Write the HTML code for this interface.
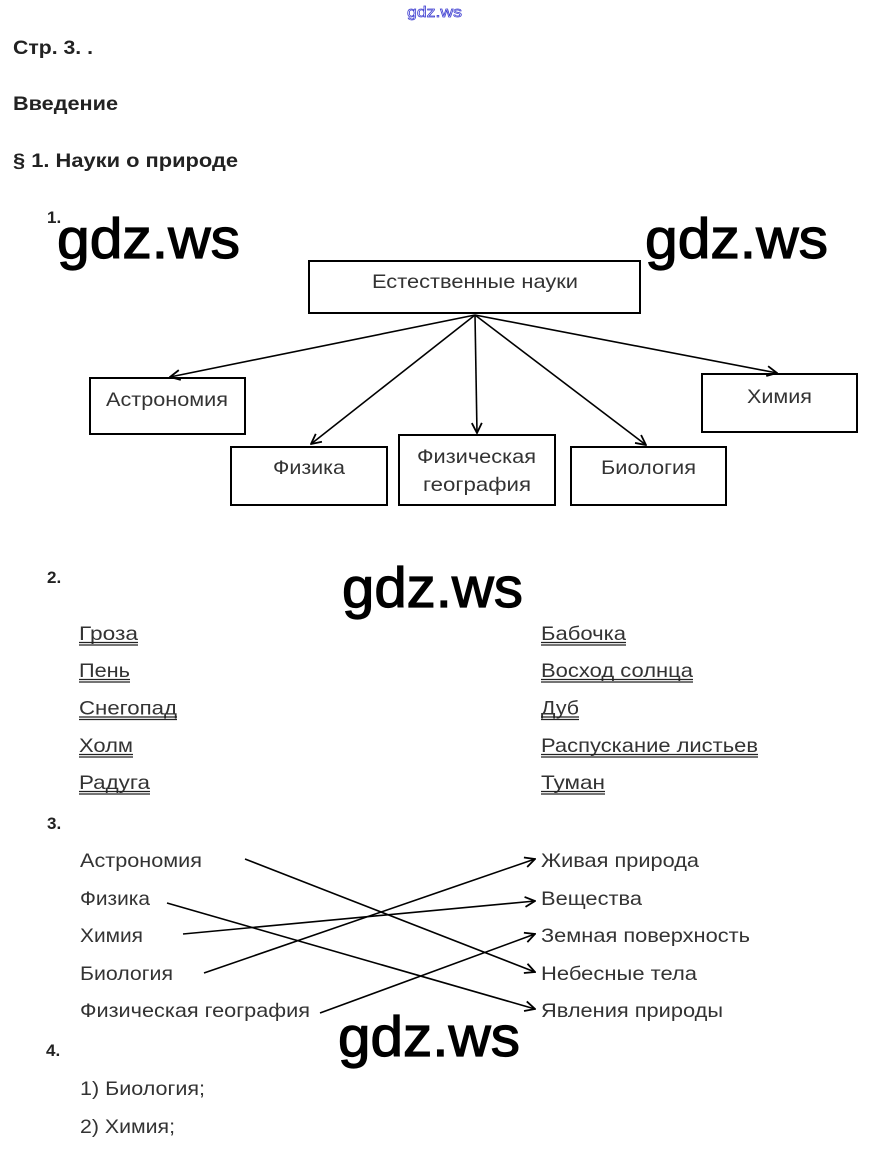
<!DOCTYPE html>
<html><head><meta charset="utf-8"><style>
html,body{margin:0;padding:0;background:#fff;}
svg{display:block;}
text{font-family:"Liberation Sans",Arial,sans-serif;}
</style></head><body>
<svg width="870" height="1156" viewBox="0 0 870 1156" xmlns="http://www.w3.org/2000/svg">
<defs>
<marker id="ah" viewBox="0 0 12 12" refX="11" refY="6" markerWidth="12" markerHeight="12" markerUnits="userSpaceOnUse" orient="auto">
<path d="M1,1 L11,6 L1,11" fill="none" stroke="#000" stroke-width="1.8"/>
</marker>
</defs>
<rect width="870" height="1156" fill="#fff"/>

<!-- top small watermark -->
<text x="407" y="17" font-size="15" textLength="55" lengthAdjust="spacingAndGlyphs" fill="#fff" stroke="#3a3ad0" stroke-width="0.7">gdz.ws</text>

<!-- headings -->
<g fill="#222" font-weight="bold">
<text x="13" y="54" font-size="19.5" textLength="80" lengthAdjust="spacingAndGlyphs">Стр. 3. .</text>
<text x="13" y="110" font-size="19.5" textLength="105" lengthAdjust="spacingAndGlyphs">Введение</text>
<text x="13" y="167" font-size="19.5" textLength="225" lengthAdjust="spacingAndGlyphs">§ 1. Науки о природе</text>
<text x="47" y="223" font-size="17">1.</text>
<text x="47" y="583" font-size="17">2.</text>
<text x="47" y="829" font-size="17">3.</text>
<text x="46" y="1056" font-size="17">4.</text>
</g>

<!-- diagram boxes -->
<g fill="none" stroke="#000" stroke-width="2">
<rect x="309" y="261" width="331" height="52"/>
<rect x="90" y="378" width="155" height="56"/>
<rect x="231" y="447" width="156" height="58"/>
<rect x="399" y="435" width="156" height="70"/>
<rect x="571" y="447" width="155" height="58"/>
<rect x="702" y="374" width="155" height="58"/>
</g>
<g fill="#333" font-size="19.5">
<text x="372" y="288" textLength="206" lengthAdjust="spacingAndGlyphs">Естественные науки</text>
<text x="106" y="406" textLength="122" lengthAdjust="spacingAndGlyphs">Астрономия</text>
<text x="273" y="474" textLength="72" lengthAdjust="spacingAndGlyphs">Физика</text>
<text x="417" y="463" textLength="119" lengthAdjust="spacingAndGlyphs">Физическая</text>
<text x="423" y="491" textLength="108" lengthAdjust="spacingAndGlyphs">география</text>
<text x="601" y="474" textLength="95" lengthAdjust="spacingAndGlyphs">Биология</text>
<text x="747" y="403" textLength="65" lengthAdjust="spacingAndGlyphs">Химия</text>
</g>
<g stroke="#000" stroke-width="1.6" marker-end="url(#ah)">
<line x1="475" y1="315" x2="170" y2="377"/>
<line x1="475" y1="315" x2="311" y2="444"/>
<line x1="475" y1="315" x2="477" y2="433"/>
<line x1="475" y1="315" x2="646" y2="445"/>
<line x1="475" y1="315" x2="777" y2="373"/>
</g>

<!-- section 2 -->
<g fill="#333" font-size="19.5">
<text x="79" y="640" textLength="59" lengthAdjust="spacingAndGlyphs">Гроза</text>
<text x="79" y="677" textLength="51" lengthAdjust="spacingAndGlyphs">Пень</text>
<text x="79" y="714.5" textLength="98" lengthAdjust="spacingAndGlyphs">Снегопад</text>
<text x="79" y="752" textLength="54" lengthAdjust="spacingAndGlyphs">Холм</text>
<text x="79" y="789" textLength="71" lengthAdjust="spacingAndGlyphs">Радуга</text>
<text x="541" y="640" textLength="85" lengthAdjust="spacingAndGlyphs">Бабочка</text>
<text x="541" y="677" textLength="152" lengthAdjust="spacingAndGlyphs">Восход солнца</text>
<text x="541" y="714.5" textLength="38" lengthAdjust="spacingAndGlyphs">Дуб</text>
<text x="541" y="752" textLength="217" lengthAdjust="spacingAndGlyphs">Распускание листьев</text>
<text x="541" y="789" textLength="64" lengthAdjust="spacingAndGlyphs">Туман</text>
</g>
<g stroke="#222" stroke-width="1.3">
<line x1="79" y1="642.5" x2="138" y2="642.5"/><line x1="79" y1="645" x2="138" y2="645"/>
<line x1="79" y1="679.5" x2="130" y2="679.5"/><line x1="79" y1="682" x2="130" y2="682"/>
<line x1="79" y1="717" x2="177" y2="717"/><line x1="79" y1="719.5" x2="177" y2="719.5"/>
<line x1="79" y1="754.5" x2="133" y2="754.5"/><line x1="79" y1="757" x2="133" y2="757"/>
<line x1="79" y1="791.5" x2="150" y2="791.5"/><line x1="79" y1="794" x2="150" y2="794"/>
<line x1="541" y1="642.5" x2="626" y2="642.5"/><line x1="541" y1="645" x2="626" y2="645"/>
<line x1="541" y1="679.5" x2="693" y2="679.5"/><line x1="541" y1="682" x2="693" y2="682"/>
<line x1="541" y1="717" x2="579" y2="717"/><line x1="541" y1="719.5" x2="579" y2="719.5"/>
<line x1="541" y1="754.5" x2="758" y2="754.5"/><line x1="541" y1="757" x2="758" y2="757"/>
<line x1="541" y1="791.5" x2="605" y2="791.5"/><line x1="541" y1="794" x2="605" y2="794"/>
</g>

<!-- section 3 -->
<g fill="#333" font-size="19.5">
<text x="80" y="867" textLength="122" lengthAdjust="spacingAndGlyphs">Астрономия</text>
<text x="80" y="905" textLength="70" lengthAdjust="spacingAndGlyphs">Физика</text>
<text x="80" y="942" textLength="63" lengthAdjust="spacingAndGlyphs">Химия</text>
<text x="80" y="980" textLength="93" lengthAdjust="spacingAndGlyphs">Биология</text>
<text x="80" y="1017" textLength="230" lengthAdjust="spacingAndGlyphs">Физическая география</text>
<text x="541" y="867" textLength="158" lengthAdjust="spacingAndGlyphs">Живая природа</text>
<text x="541" y="905" textLength="101" lengthAdjust="spacingAndGlyphs">Вещества</text>
<text x="541" y="942" textLength="209" lengthAdjust="spacingAndGlyphs">Земная поверхность</text>
<text x="541" y="980" textLength="156" lengthAdjust="spacingAndGlyphs">Небесные тела</text>
<text x="541" y="1017" textLength="182" lengthAdjust="spacingAndGlyphs">Явления природы</text>
</g>
<g stroke="#000" stroke-width="1.6" marker-end="url(#ah)">
<line x1="245" y1="859" x2="535" y2="972"/>
<line x1="167" y1="903" x2="535" y2="1009"/>
<line x1="183" y1="934" x2="535" y2="901"/>
<line x1="204" y1="973" x2="535" y2="859"/>
<line x1="320" y1="1013" x2="535" y2="934"/>
</g>

<!-- section 4 -->
<g fill="#333" font-size="19">
<text x="80" y="1095" textLength="125" lengthAdjust="spacingAndGlyphs">1) Биология;</text>
<text x="80" y="1133" textLength="95" lengthAdjust="spacingAndGlyphs">2) Химия;</text>
</g>

<!-- big watermarks -->
<g fill="#000" stroke="#000" stroke-width="1.2" font-size="57">
<text x="57" y="258" textLength="183" lengthAdjust="spacingAndGlyphs">gdz.ws</text>
<text x="645" y="258" textLength="183" lengthAdjust="spacingAndGlyphs">gdz.ws</text>
<text x="342" y="607" textLength="181" lengthAdjust="spacingAndGlyphs">gdz.ws</text>
<text x="338" y="1056" textLength="182" lengthAdjust="spacingAndGlyphs">gdz.ws</text>
</g>
</svg>
</body></html>
